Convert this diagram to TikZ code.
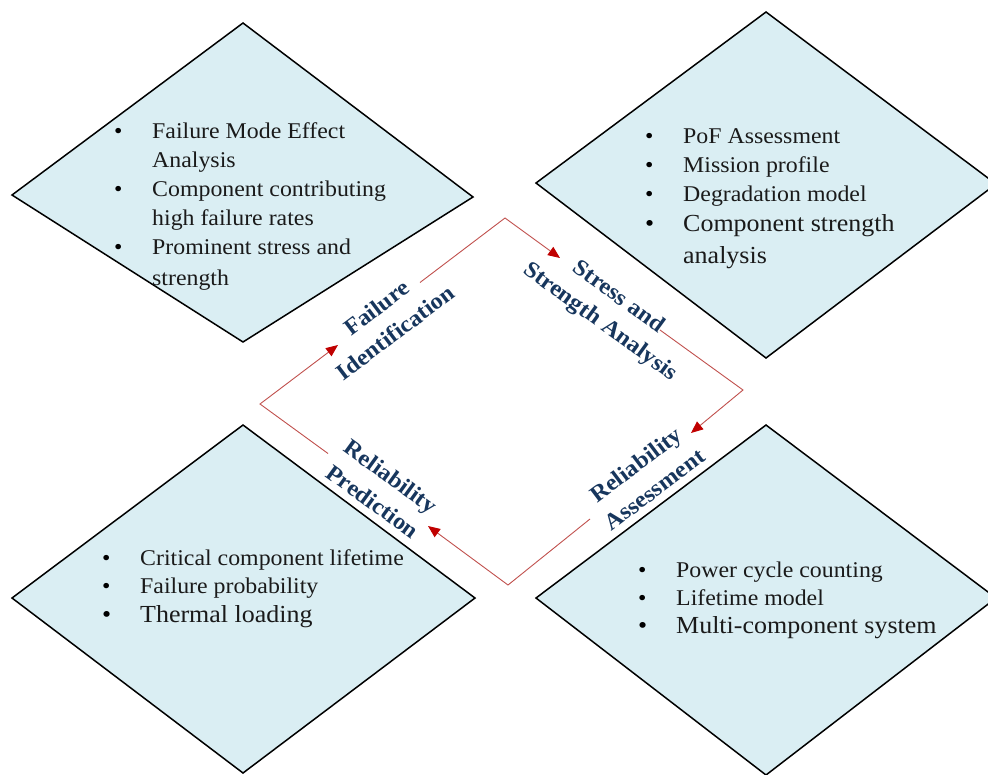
\documentclass[tikz,border=0pt]{standalone}
\usepackage{fontspec}
\setmainfont{Liberation Serif}[FakeStretch=1.06]
\usetikzlibrary{arrows.meta}

\definecolor{boxfill}{HTML}{DAEEF3}
\definecolor{loopline}{HTML}{C0504D}
\definecolor{tipred}{HTML}{C00000}
\definecolor{labelblue}{HTML}{17365D}
\definecolor{bodytext}{HTML}{1A1A1A}

% bullet item and continuation line with a fixed hanging indent
\newcommand\itm[1]{\makebox[38pt][l]{\textcolor{black}{\textbullet}}#1}
\newcommand\cnt[1]{\hspace*{38pt}#1}

\begin{document}
\begin{tikzpicture}[x=1pt,y=-1pt,
  panel/.style={fill=boxfill, draw=black, line width=1.5pt, line join=miter},
  flow/.style={draw=loopline, line width=0.9pt, line join=miter,
    -{Triangle[length=12pt,width=10pt,color=tipred]}},
  stage/.style={font=\fontsize{23}{31}\selectfont\bfseries, text=labelblue,
    align=center, inner sep=0pt},
  items/.style={anchor=base west, inner sep=0pt, text=bodytext,
    font=\fontsize{22.5}{29}\selectfont}]

\useasboundingbox (0,0) rectangle (988,774);
\clip (0,0) rectangle (988,774);

% ---- the four diamonds ----
\coordinate (fiN) at (243,23);  \coordinate (fiE) at (473,197);
\coordinate (fiS) at (243,342); \coordinate (fiW) at (12,195);
\draw[panel] (fiN) -- (fiE) -- (fiS) -- (fiW) -- cycle;

\coordinate (ssN) at (766,12);  \coordinate (ssE) at (996,184);
\coordinate (ssS) at (766,358); \coordinate (ssW) at (536,183);
\draw[panel] (ssN) -- (ssE) -- (ssS) -- (ssW) -- cycle;

\coordinate (rpN) at (243,425); \coordinate (rpE) at (475,598);
\coordinate (rpS) at (243,773); \coordinate (rpW) at (12,598);
\draw[panel] (rpN) -- (rpE) -- (rpS) -- (rpW) -- cycle;

\coordinate (raN) at (766,425); \coordinate (raE) at (996,598);
\coordinate (raS) at (766,775); \coordinate (raW) at (536,598);
\draw[panel] (raN) -- (raE) -- (raS) -- (raW) -- cycle;

% ---- the cycle loop: corners, arrow tips and gap ends ----
\coordinate (L) at (260,404);
\coordinate (T) at (505,218);
\coordinate (R) at (743,390);
\coordinate (B) at (508,585);
\coordinate (a1) at (338,345);  \coordinate (g1) at (420,282.5);
\coordinate (a2) at (560,258);  \coordinate (g2) at (660,330);
\coordinate (a3) at (691,433);  \coordinate (g3) at (590,519);
\coordinate (a4) at (428,526);  \coordinate (g4) at (328,453.5);

\draw[flow] (g4) -- (L) -- (a1);
\draw[flow] (g1) -- (T) -- (a2);
\draw[flow] (g2) -- (R) -- (a3);
\draw[flow] (g3) -- (B) -- (a4);

% ---- stage labels along the loop ----
\node[stage, rotate=37]  (lblFail)   at (386,320) {Failure\\Identification};
\node[stage, rotate=-36] (lblStress) at (609,310) {Stress and\\Strength Analysis};
\node[stage, rotate=37]  (lblAssess) at (645,477) {Reliability\\Assessment};
\node[stage, rotate=-36] (lblPred)   at (382,489) {Reliability\\Prediction};

% ---- bullet lists inside the diamonds ----
\node[items] (fiText) at (114,138) {\parbox[t]{360pt}{\raggedright
  \itm{Failure Mode Effect}\\
  \cnt{Analysis}\\
  \itm{Component contributing}\\
  \cnt{high failure rates}\\
  \itm{Prominent stress and}\\[2pt]
  \cnt{strength}}};

\node[items] (ssText) at (645,143) {\parbox[t]{360pt}{\raggedright
  \itm{PoF Assessment}\\
  \itm{Mission profile}\\
  \itm{Degradation model}\par
  {\fontsize{24.5}{30}\selectfont
  \itm{Component strength}\\[2pt]
  \cnt{analysis}\par}}};

\node[items] (rpText) at (102,565) {\parbox[t]{360pt}{\raggedright
  \baselineskip=28.5pt
  \itm{Critical component lifetime}\\
  \itm{Failure probability}\par
  {\fontsize{24.5}{28.5}\selectfont
  \itm{Thermal loading}\par}}};

\node[items] (raText) at (638,577) {\parbox[t]{360pt}{\raggedright
  \baselineskip=28pt
  \itm{Power cycle counting}\\
  \itm{Lifetime model}\par
  {\fontsize{24.5}{28}\selectfont
  \itm{Multi-component system}\par}}};

\end{tikzpicture}
\end{document}
